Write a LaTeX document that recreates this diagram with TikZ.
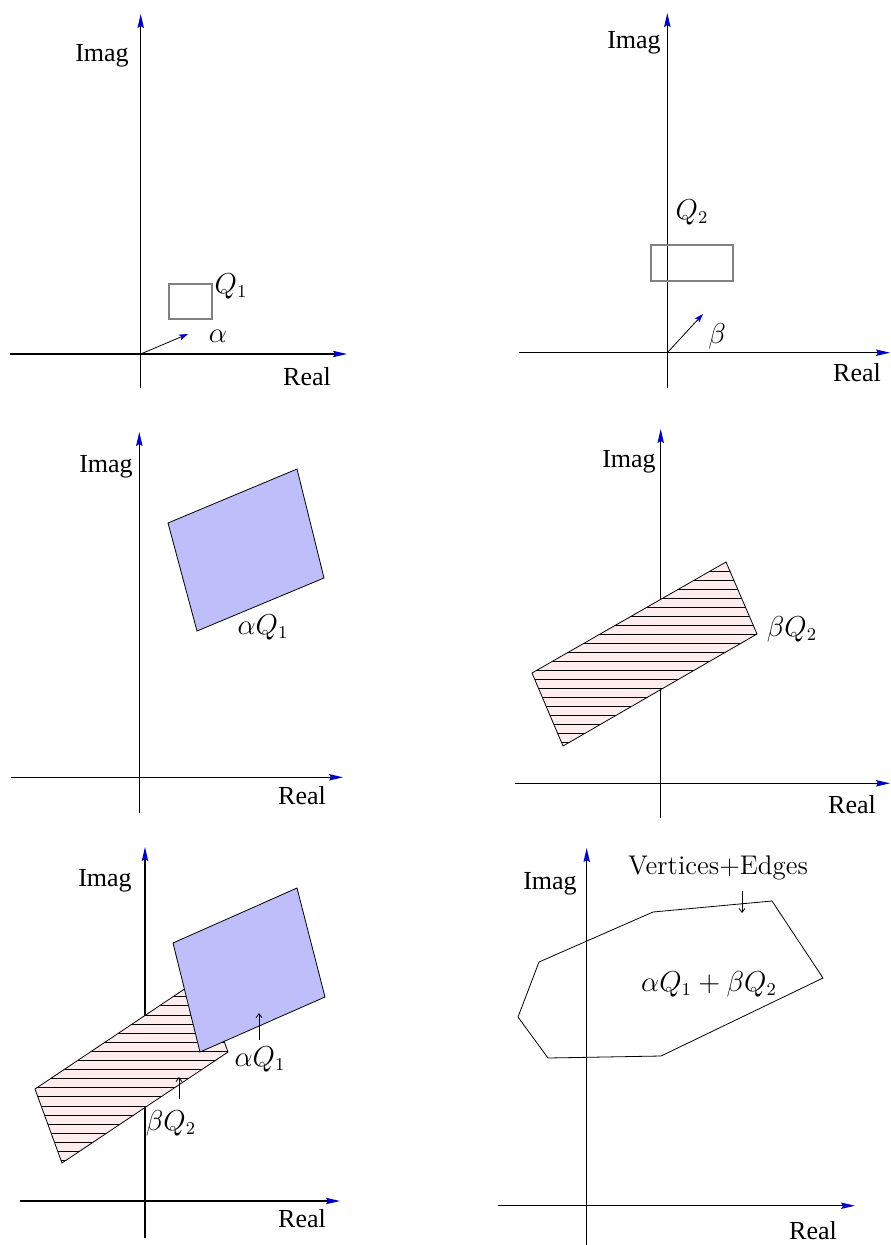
\documentclass[tikz,border=0pt]{standalone}
\usepackage{fontspec}
\newfontfamily\timesfont{Liberation Serif}
\usetikzlibrary{arrows.meta}
\definecolor{polyblue}{RGB}{190,190,250}
\definecolor{polypink}{RGB}{255,237,237}
\definecolor{tipblue}{RGB}{0,0,205}

\begin{document}
\begin{tikzpicture}[
    x=0.5pt, y=-0.5pt,
    axis/.style={line width=0.6pt, -{Stealth[length=7pt, width=3.2pt, inset=1pt, color=tipblue]}},
    vec/.style={line width=0.4pt, -{Stealth[length=4.5pt, width=3pt, inset=1pt, color=tipblue]}},
    pointer/.style={line width=0.4pt, -{Straight Barb[length=2pt, width=3pt]}},
    lbl/.style={font=\timesfont\fontsize{13}{15}\selectfont, inner sep=0pt},
    mlbl/.style={font=\fontsize{13.5}{16}\selectfont, inner sep=0pt},
    qbox/.style={draw=gray, line width=0.6pt},
    blueq/.style={draw=black, line width=0.4pt, fill=polyblue},
    pinkq/.style={draw=black, line width=0.4pt, fill=polypink},
    hatch/.style={line width=0.4pt}
  ]
  \useasboundingbox (0,0) rectangle (890,1245);

  % Panel 1 -- Q1 and alpha
  \coordinate (o1) at (140.7,354);
  \draw[axis] (10,354) -- (347,354);
  \draw[axis] (140.7,388) -- (140.7,14);
  \node[lbl] (im1) at (102,56)  {Imag};
  \node[lbl] (re1) at (307,377) {Real};
  \draw[qbox] (169,284) rectangle (212,319);
  \node[mlbl] (q1) at (231,286) {$Q_1$};
  \coordinate (a1) at (188,334);
  \draw[vec] (o1) -- (a1);
  \node[mlbl] (al1) at (218,336) {$\alpha$};

  % Panel 2 -- Q2 and beta
  \coordinate (o2) at (667.3,352.7);
  \draw[axis] (519,352.7) -- (890,352.7);
  \draw[axis] (667.3,388) -- (667.3,13);
  \node[lbl] (im2) at (634,43)  {Imag};
  \node[lbl] (re2) at (857,373) {Real};
  \draw[qbox] (651,245) rectangle (733,281);
  \node[mlbl] (q2) at (692,212) {$Q_2$};
  \coordinate (b2) at (703,314);
  \draw[vec] (o2) -- (b2);
  \node[mlbl] (be2) at (717,336) {$\beta$};

  % Panel 3 -- alpha Q1
  \draw[axis] (11,777.3) -- (343,777.3);
  \draw[axis] (139.3,813) -- (139.3,432);
  \node[lbl] (im3) at (106,467) {Imag};
  \node[lbl] (re3) at (302,796) {Real};
  \draw[blueq] (168,523) -- (297,469) -- (324,578) -- (197,631) -- cycle;
  \node[mlbl] (aq3) at (263,627) {$\alpha Q_1$};

  % Panel 4 -- beta Q2
  \draw[axis] (515,783.3) -- (890,783.3);
  \draw[axis] (660.7,818) -- (660.7,429);
  \node[lbl] (im4) at (629,462) {Imag};
  \node[lbl] (re4) at (852,805) {Real};
  \fill[polypink] (532,673) -- (726,562) -- (757,634) -- (563,746) -- cycle;
  \begin{scope}
    \clip (532,673) -- (726,562) -- (757,634) -- (563,746) -- cycle;
    \foreach \y in {0,...,19}
      \draw[hatch] (520,571.3+9*\y) -- (770,571.3+9*\y);
  \end{scope}
  \draw[pinkq, fill=none] (532,673) -- (726,562) -- (757,634) -- (563,746) -- cycle;
  \node[mlbl] (bq4) at (792,629) {$\beta Q_2$};

  % Panel 5 -- both sets
  \draw[axis] (20,1201) -- (340,1201);
  \draw[axis] (145,1238) -- (145,847);
  \node[lbl] (im5) at (105,881)  {Imag};
  \node[lbl] (re5) at (302,1219) {Real};
  \fill[polypink] (35,1089) -- (201,978) -- (228,1052) -- (62,1163) -- cycle;
  \begin{scope}
    \clip (35,1089) -- (201,978) -- (228,1052) -- (62,1163) -- cycle;
    \foreach \y in {0,...,19}
      \draw[hatch] (20,987.6+9.1*\y) -- (240,987.6+9.1*\y);
  \end{scope}
  \draw[pinkq, fill=none] (35,1089) -- (201,978) -- (228,1052) -- (62,1163) -- cycle;
  \draw[blueq] (173,943) -- (297,888) -- (325,997) -- (200,1052) -- cycle;
  \node[mlbl] (aq5) at (260,1059) {$\alpha Q_1$};
  \node[mlbl] (bq5) at (171,1123) {$\beta Q_2$};
  \coordinate (pa5) at (259,1013);
  \coordinate (pb5) at (179,1077);
  \draw[pointer] (aq5.north -| pa5) ++(0,-6) -- (pa5);
  \draw[pointer] (bq5.north -| pb5) ++(0,-11) -- (pb5);

  % Panel 6 -- Minkowski sum
  \draw[axis] (498,1205.7) -- (855,1205.7);
  \draw[axis] (586.7,1245) -- (586.7,848);
  \node[lbl] (im6) at (550,884)  {Imag};
  \node[lbl] (re6) at (813,1231) {Real};
  \draw[line width=0.4pt] (539,962) -- (653,912) -- (772,901) -- (823,978)
    -- (661,1056) -- (548,1058) -- (518,1017) -- cycle;
  \node[font=\fontsize{13.5}{16}\selectfont, inner sep=0pt] (ve6) at (718,868) {Vertices+Edges};
  \node[mlbl] (sum6) at (709,984) {$\alpha Q_1+\beta Q_2$};
  \coordinate (pv6) at (742,913);
  \draw[pointer] (ve6.south -| pv6) ++(0,10) -- (pv6);
\end{tikzpicture}
\end{document}
